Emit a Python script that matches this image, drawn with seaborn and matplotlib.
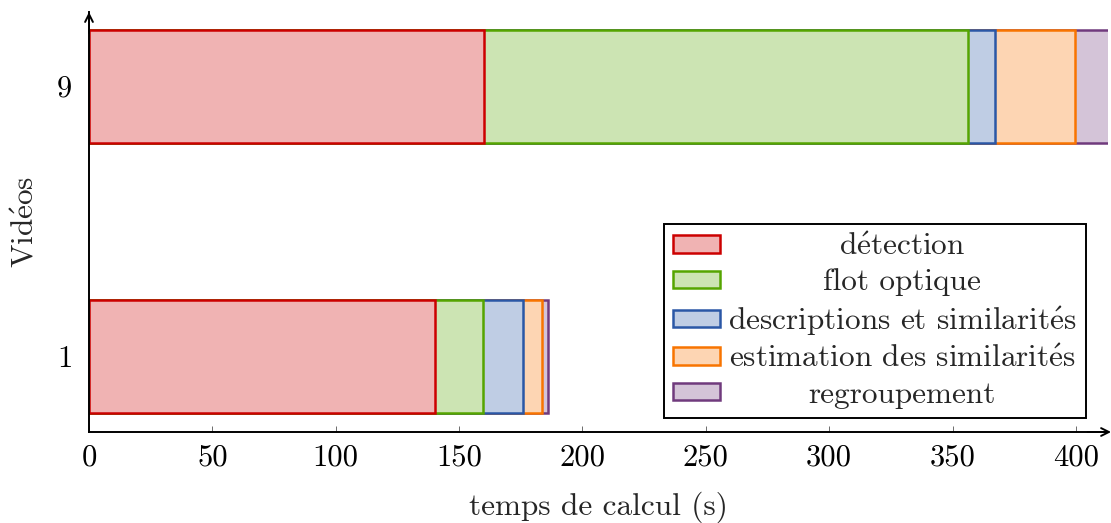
import numpy as np
import pandas as pd
import seaborn as sns
import matplotlib
matplotlib.use("Agg")
import matplotlib.pyplot as plt
from matplotlib.transforms import Bbox

# ---- data ----
videos = ["1", "9"]
order = ["9", "1"]
detection = [140.2, 160.2]
flot = [19.3, 196.2]
descriptions = [16.5, 11.0]
estimation = [7.4, 32.4]
regroupement = [2.7, 25.0]
series_names = [r"d$\acute{\rm e}$tection", "flot optique",
                r"descriptions et similarit$\acute{\rm e}$s",
                r"estimation des similarit$\acute{\rm e}$s", "regroupement"]
series_values = [detection, flot, descriptions, estimation, regroupement]
xticks = [0, 50, 100, 150, 200, 250, 300, 350, 400]

edge_colors = ["#cc0000", "#55a500", "#2a57a6", "#f87400", "#703a7d"]


def blend(c, a=0.3):
    rgb = np.array(matplotlib.colors.to_rgb(c))
    return tuple(1 - a * (1 - rgb))


fill_colors = [blend(c) for c in edge_colors]

sns.set_theme(style="white")
plt.rcParams["font.family"] = ["cmr10", "DejaVu Serif"]
plt.rcParams["axes.formatter.use_mathtext"] = True
plt.rcParams["mathtext.fontset"] = "cm"
plt.rcParams["mathtext.rm"] = "cmr10"

FS = 22.5
TFS = 22

fig = plt.figure(figsize=(11.11, 5.23), dpi=100)
W_PX, H_PX = 1111, 523
ax_left, ax_right = 89, 1108
ax_top, ax_bottom = 12, 432
ax = fig.add_axes([ax_left / W_PX, (H_PX - ax_bottom) / H_PX,
                   (ax_right - ax_left) / W_PX, (ax_bottom - ax_top) / H_PX])

# cumulative stacks
cum = np.cumsum(np.array(series_values), axis=0)
cols = [f"s{i}" for i in range(len(series_names))]
df = pd.DataFrame({"video": videos})
for i, c in enumerate(cols):
    df[c] = cum[i]

bar_w = 113 / 270
for i in reversed(range(len(series_names))):
    sns.barplot(data=df, x=cols[i], y="video", order=order, orient="h",
                color=fill_colors[i], edgecolor=edge_colors[i], linewidth=1.8,
                saturation=1, width=bar_w, label=series_names[i], ax=ax)

ax.set_xlim(0, 413)
ax.set_ylim(1 + 76 / 270, -74 / 270)
ax.set_xticks(xticks)
ax.set_xticklabels([str(t) for t in xticks])

for s in ["top", "right"]:
    ax.spines[s].set_visible(False)
for s in ["left", "bottom"]:
    ax.spines[s].set_color("black")
    ax.spines[s].set_linewidth(1.4)

ax.tick_params(axis="both", direction="in", length=4.5, width=0.6, color="#555555",
               labelsize=TFS, colors="black")
ax.tick_params(axis="x", pad=9, bottom=True)
ax.tick_params(axis="y", pad=12, left=True)
for lab in ax.get_xticklabels() + ax.get_yticklabels():
    lab.set_color("black")

ax.set_xlabel("temps de calcul (s)", fontsize=FS, labelpad=14)
ax.set_ylabel(r"Vid$\acute{\rm e}$os", fontsize=FS, labelpad=13)

# axis arrows
ax.annotate("", xy=(1.003, 0), xytext=(0.98, 0), xycoords="axes fraction",
            arrowprops=dict(arrowstyle="->", lw=1.4, color="black", mutation_scale=14,
                            shrinkA=0, shrinkB=0), annotation_clip=False)
ax.annotate("", xy=(0, 1.0), xytext=(0, 0.95), xycoords="axes fraction",
            arrowprops=dict(arrowstyle="->", lw=1.4, color="black", mutation_scale=14,
                            shrinkA=0, shrinkB=0), annotation_clip=False)

handles, labels = ax.get_legend_handles_labels()
handles, labels = handles[::-1], labels[::-1]
leg = ax.legend(handles, labels, loc="lower right",
                bbox_to_anchor=((1086 - ax_left) / (ax_right - ax_left),
                                (ax_bottom - 418) / (ax_bottom - ax_top)),
                borderaxespad=0, fontsize=FS, frameon=True, fancybox=False,
                edgecolor="black", framealpha=1, handlelength=1.5,
                handleheight=0.48, handletextpad=0.25, labelspacing=0.24,
                borderpad=0.3)
leg.get_frame().set_linewidth(1.4)

# center legend labels within their column (as in the original)
fig.canvas.draw()
renderer = fig.canvas.get_renderer()
tas = []
for col in leg._legend_handle_box.get_children():
    for row in col.get_children():
        tas.append(row.get_children()[1])
Wmax = max(ta.get_bbox(renderer).width for ta in tas)
for ta in tas:
    ta._text.set_horizontalalignment("center")
    orig = ta.get_bbox

    def gb(renderer, orig=orig):
        b = orig(renderer)
        return Bbox.from_bounds(-Wmax / 2, b.y0, Wmax, b.height)
    ta.get_bbox = gb

fig.savefig("out.png", dpi=100)
